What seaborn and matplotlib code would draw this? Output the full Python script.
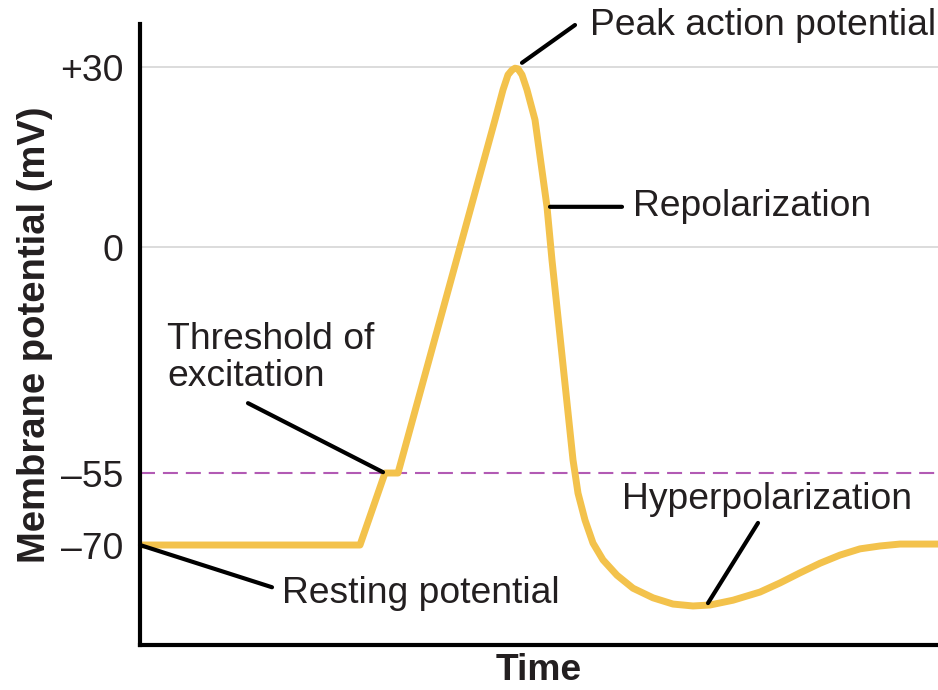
import numpy as np
import pandas as pd
import seaborn as sns
import matplotlib.pyplot as plt

################################################################################
# membrane potential trace (time in ms, potential in mV)
time_ms = [0.00, 2.20, 2.45, 2.58, 3.55, 3.63, 3.68, 3.72, 3.75,
           3.78, 3.82, 3.87, 3.95, 4.07, 4.12, 4.33, 4.35, 4.38, 4.45,
           4.53, 4.63, 4.77, 4.93, 5.13, 5.33, 5.53, 5.70, 5.93, 6.20,
           6.40, 6.60, 6.80, 7.00, 7.20, 7.40, 7.60, 7.80, 7.98]
potential_mv = [-70.0, -70.0, -55.0, -55.0, 21.2, 26.2, 28.7, 29.5, 29.8,
                29.7, 28.7, 26.2, 21.2, 6.7, -3.2, -51.8, -55.0, -59.2, -64.8,
                -69.6, -73.1, -76.3, -79.0, -81.0, -82.3, -82.7, -82.5, -81.5, -79.8,
                -77.9, -75.8, -73.8, -72.1, -70.8, -70.2, -69.8, -69.8, -69.8]

tick_values = [30, 0, -55, -70]
tick_labels = ['+30', '0', '\u201355', '\u201370']
grid_values = [30, 0]
threshold_mv = -55

# schematic (non linear) potential axis: knots of a piecewise linear scale
scale_mv = [-200, -70, -55, 0, 30, 200]
scale_pos = [-524, 100, 172, 398, 578, 1598]


def fwd(v):
    return np.interp(v, scale_mv, scale_pos)


def inv(p):
    return np.interp(p, scale_pos, scale_mv)


################################################################################
sns.set_style('white')
plt.rcParams['font.family'] = ['Liberation Sans', 'DejaVu Sans']

fig = plt.figure(figsize=(9.38, 6.90), dpi=100)
ax = fig.add_axes([0.14925, 0.06522, 0.85075, 0.9])
ax.set_yscale('function', functions=(fwd, inv))

TXT = '#231f20'
GOLD = '#f3c24c'
FS = 26.8

for g in grid_values:
    ax.axhline(g, color='#d6d6d6', lw=1.2, zorder=0)
ax.axhline(threshold_mv, color='#b25ab4', lw=1.5,
           linestyle=(0, (7.2, 3.8)), zorder=1)

df = pd.DataFrame({'time': time_ms, 'mv': potential_mv})
sns.lineplot(data=df, x='time', y='mv', ax=ax, color=GOLD, lw=5,
             sort=False, solid_joinstyle='round', solid_capstyle='round',
             zorder=2)

ax.set_xlim(0, 7.98)
ax.set_ylim(-90.83, 37.17)
ax.set_xticks([])
ax.set_yticks(tick_values)
ax.set_yticklabels(tick_labels)
ax.tick_params(axis='y', length=0, pad=12, labelsize=FS, labelcolor=TXT)
ax.set_xlabel('Time', fontsize=FS, fontweight='bold', color=TXT, labelpad=6)
ax.set_ylabel('Membrane potential (mV)', fontsize=27.5, fontweight='bold',
              color=TXT, labelpad=5)

for side in ['top', 'right']:
    ax.spines[side].set_visible(False)
for side in ['left', 'bottom']:
    ax.spines[side].set_color('black')
    ax.spines[side].set_linewidth(3)

# ##################################### callouts
callouts = [
    ('Peak action potential', (3.82, 30.7), (4.35, 37.0), (4.50, 37.0)),
    ('Repolarization', (4.10, 6.7), (4.82, 6.7), (4.93, 6.7)),
    ('Threshold of\nexcitation', (2.43, -54.8), (1.08, -38.0), (0.27, -27.0)),
    ('Resting potential', (0.00, -70.0), (1.32, -78.8), (1.42, -80.0)),
    ('Hyperpolarization', (5.68, -82.1), (6.18, -65.4), (4.82, -60.6)),
]
for label, p0, p1, tpos in callouts:
    ax.annotate('', xy=p0, xytext=p1, annotation_clip=False,
                arrowprops=dict(arrowstyle='-', color='black', lw=3,
                                shrinkA=0, shrinkB=0))
    ax.text(tpos[0], tpos[1], label, fontsize=FS, color=TXT, ha='left',
            va='center', linespacing=1.05, clip_on=False)

plt.savefig('out.png', dpi=100)
